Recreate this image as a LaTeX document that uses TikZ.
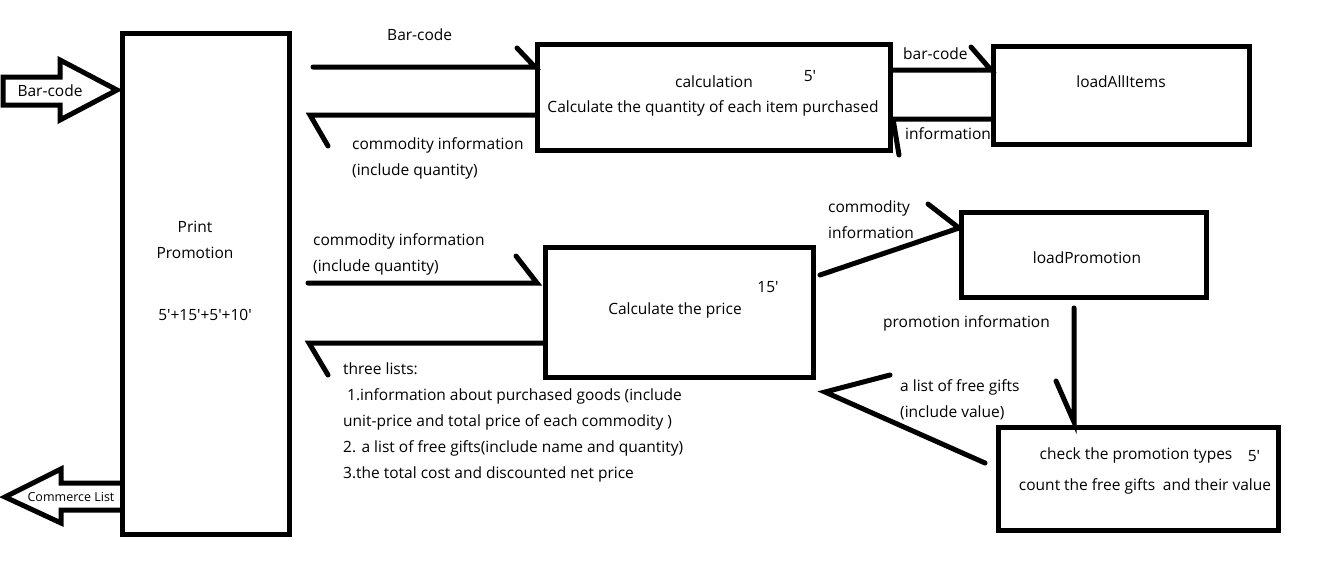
\documentclass[tikz,border=0pt]{standalone}
\usepackage{fontspec}
\setmainfont{Open Sans}
\newcommand{\pr}{\textquotesingle}
\begin{document}
\begin{tikzpicture}[x=1pt,y=-1pt,
  box/.style={draw, line width=5pt, inner sep=0pt},
  conn/.style={line width=5pt, line cap=round},
  lbl/.style={inner sep=0pt, font=\fontsize{15.5}{26}\selectfont, align=left},
  blk/.style={line width=5pt, line join=miter}]
\useasboundingbox (0,0) rectangle (1321,560);
% boxes
\node[box, minimum width=167pt, minimum height=501pt] (main) at (206,284) {};
\node[box, minimum width=353pt, minimum height=106pt] (calc) at (714,97.5) {};
\node[box, minimum width=256pt, minimum height=98pt] (lai) at (1121.5,95.5) {};
\node[box, minimum width=268pt, minimum height=130pt] (price) at (679.5,312.5) {};
\node[box, minimum width=245pt, minimum height=85pt] (lp) at (1084,255) {};
\node[box, minimum width=280pt, minimum height=103pt] (chk) at (1138.5,479) {};
% box texts
\node[lbl] (t1) at (195,227) {Print};
\node[lbl] (t2) at (195,253) {Promotion};
\node[lbl] (t3) at (205,315) {5\pr+15\pr+5\pr+10\pr};
\node[lbl] (t4) at (714,82) {calculation};
\node[lbl] (t5) at (810,76) {5\pr};
\node[lbl] (t6) at (713,108) {Calculate the quantity of each item purchased};
\node[lbl] (t7) at (1121,82) {loadAllItems};
\node[lbl] (t8) at (768,287) {15\pr};
\node[lbl] (t9) at (675,310) {Calculate the price};
\node[lbl] (t10) at (1087,258) {loadPromotion};
\node[lbl] (t11) at (1136,455) {check the promotion types};
\node[lbl] (t12) at (1254,456) {5\pr};
\node[lbl] (t13) at (1145,486) {count the free gifts\enspace and their value};
% block arrows
\draw[blk] (3,77) -- (60,77) -- (60,60) -- (117,90) -- (60,120) -- (60,105) -- (3,105) -- cycle;
\node[lbl] (in) at (50,91) {Bar-code};
\draw[blk] (main.west |- 0,483) -- (61,483) -- (61,469) -- (5,497) -- (61,523) -- (61,510) -- (main.west |- 0,510);
\node[inner sep=0pt, font=\fontsize{12.5}{14}\selectfont] (out) at (71,497) {Commerce List};
% coordinates
\coordinate (s1) at (313,67);
\coordinate (s2) at (310,115);
\coordinate (y70) at (0,70);
\coordinate (y119) at (0,119);
\coordinate (s3) at (308,283);
\coordinate (s4) at (309,343);
\coordinate (y275) at (0,275);
\coordinate (y228) at (0,228);
\coordinate (x1074) at (1074,0);
\coordinate (e5) at (825,392);
\coordinate (s5) at (985,463);
% connectors
\draw[conn] (s1) -- (s1 -| calc.west) -- ++(-18,-19);
\draw[conn] (s2 -| calc.west) -- (s2) -- ++(18,31);
\draw[conn] (calc.east |- y70) -- (lai.west |- y70) -- ++(-20,-23);
\draw[conn] (lai.west |- y119) -- (calc.east |- y119) -- ++(6,36);
\draw[conn] (s3) -- ([xshift=-6pt]s3 -| price.west) -- ++(-21,-27);
\draw[conn] (s4 -| price.west) -- (s4) -- ++(19,32);
\draw[conn] ([xshift=4pt]price.east |- y275) -- (lp.west |- y228) -- ++(-31,-24);
\draw[conn] ([yshift=-8pt]lp.south -| x1074) -- ([yshift=3pt]chk.north -| x1074) -- ++(-18,-41);
\draw[conn] (s5) -- (e5) -- ++(65,-17);
% labels
\node[lbl, anchor=west] (l1) at (387,35) {Bar-code};
\node[lbl, anchor=west] (l2) at (352,158) {commodity information\\(include quantity)};
\node[lbl, anchor=west] (l3) at (903,54) {bar-code};
\node[lbl, anchor=west] (l4) at (905,134) {information};
\node[lbl, anchor=west] (l5) at (313,254) {commodity information\\(include quantity)};
\node[lbl, anchor=west] (l6) at (343,422) {three lists:\\\ 1.information about purchased goods (include\\unit-price and total price of each commodity )\\2. a list of free gifts(include name and quantity)\\3.the total cost and discounted net price};
\node[lbl, anchor=west] (l7) at (828,220) {commodity\\information};
\node[lbl, anchor=west] (l8) at (883,323) {promotion information};
\node[lbl, anchor=west] (l9) at (900,400) {a list of free gifts\\(include value)};
\end{tikzpicture}
\end{document}
